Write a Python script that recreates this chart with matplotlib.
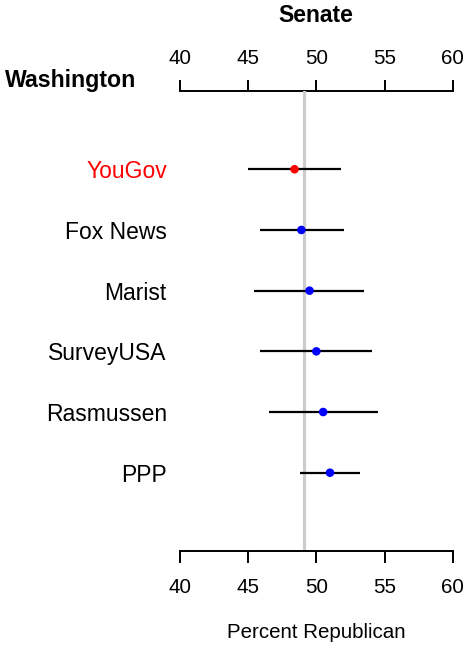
import matplotlib
matplotlib.use("Agg")
import matplotlib.pyplot as plt

plt.rcParams["font.family"] = ["Liberation Sans", "DejaVu Sans"]

# poll estimates for Washington Senate race (percent Republican)
pollsters = ["YouGov", "Fox News", "Marist", "SurveyUSA", "Rasmussen", "PPP"]
estimate = [48.4, 48.9, 49.5, 50.0, 50.5, 51.0]
lower = [45.0, 45.9, 45.4, 45.9, 46.5, 48.8]
upper = [51.8, 52.0, 53.5, 54.1, 54.5, 53.2]
dot_colors = ["red", "blue", "blue", "blue", "blue", "blue"]
label_colors = ["red", "black", "black", "black", "black", "black"]
average = 49.1
xticks = [40, 45, 50, 55, 60]

W, H = 464, 645
fig = plt.figure(figsize=(W / 100, H / 100), dpi=100)
ax = fig.add_axes([180 / W, 1 - 551 / H, (452.7 - 180) / W, (551 - 91) / H])

rows = list(range(1, len(pollsters) + 1))

ax.axvline(average, color="#cccccc", lw=2.3, zorder=1)
ax.hlines(rows, lower, upper, color="black", lw=1.6, zorder=2)
ax.scatter(estimate, rows, c=dot_colors, s=38, zorder=3, edgecolors="none")

ax.set_xlim(40, 60)
ax.set_ylim(7.29, -0.29)

for s in ("left", "right", "top"):
    ax.spines[s].set_visible(False)
ax.spines["bottom"].set_linewidth(1.4)

ax.set_xticks(xticks)
ax.tick_params(axis="x", direction="out", length=8.6, width=1.4,
               labelsize=14.8, pad=11)

top = ax.secondary_xaxis("top")
top.set_xticks(xticks)
top.spines["top"].set_linewidth(1.4)
top.tick_params(axis="x", direction="out", length=8.2, width=1.4,
                labelsize=14.8, pad=8.5)

ax.set_yticks(rows)
ax.set_yticklabels(pollsters)
ax.tick_params(axis="y", length=0, labelsize=16.5, pad=9.5)
for lab, col in zip(ax.get_yticklabels(), label_colors):
    lab.set_color(col)

fig.text(316 / W, 1 - 15 / H, "Senate", ha="center", va="center",
         fontsize=16.5, fontweight="bold")
fig.text(5 / W, 1 - 80 / H, "Washington", ha="left", va="center",
         fontsize=16.7, fontweight="bold")
fig.text(316 / W, 1 - 632 / H, "Percent Republican", ha="center", va="center",
         fontsize=14.8)

fig.savefig("out.png", dpi=100)
